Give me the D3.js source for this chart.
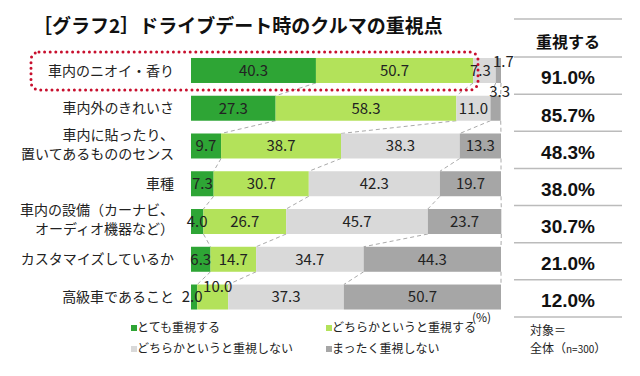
<!DOCTYPE html>
<html>
<head>
<meta charset="utf-8">
<script src="https://cdn.jsdelivr.net/npm/d3@7"></script>
<style>
  body { margin: 0; background: #fff; }
  svg { font-family: "Noto Sans CJK JP", "Noto Sans", sans-serif; }
</style>
</head>
<body>
<svg id="chart" width="640" height="376"></svg>
<script>
const categories = [
    "車内のニオイ・香り",
    "車内外のきれいさ",
    "車内に貼ったり、|置いてあるもののセンス",
    "車種",
    "車内の設備（カーナビ、|オーディオ機器など）",
    "カスタマイズしているか",
    "高級車であること"
];
const seriesNames = ["とても重視する", "どちらかというと重視する", "どちらかというと重視しない", "まったく重視しない"];
const veryImportant = [40.3, 27.3, 9.7, 7.3, 4.0, 6.3, 2.0];
const somewhatImportant = [50.7, 58.3, 38.7, 30.7, 26.7, 14.7, 10.0];
const somewhatNot = [7.3, 11.0, 38.3, 42.3, 45.7, 34.7, 37.3];
const notAtAll = [1.7, 3.3, 13.3, 19.7, 23.7, 44.3, 50.7];
const importantTotal = ["91.0%", "85.7%", "48.3%", "38.0%", "30.7%", "21.0%", "12.0%"];

const colors = ["#2ea535", "#b3e25a", "#d9d9d9", "#a6a6a6"];
// small labels that are nudged off their segment: [row, series, dx, dy]
const nudges = [[0, 2, -4, 0], [0, 3, 5, -9], [1, 3, 4, -17], [6, 1, 5, -10], [6, 0, -2, 0]];

const svg = d3.select("#chart");
const rows = categories.map((c, i) => ({
    cat: c,
    v: [veryImportant[i], somewhatImportant[i], somewhatNot[i], notAtAll[i]]
}));
const keys = [0, 1, 2, 3];
const stack = d3.stack().keys(keys).value((d, k) => d.v[k]);
const series = stack(rows);

const x = d3.scaleLinear().domain([0, 100]).range([191, 501]);
const y = d3.scaleBand().domain(d3.range(rows.length)).range([51.6, 315.9]).paddingInner(0.34).paddingOuter(0.17);
const bh = 25;
const yc = i => y(i) + y.bandwidth() / 2;

// title
svg.append("text")
    .attr("x", 33).attr("y", 33)
    .attr("font-size", 19).attr("font-weight", "bold").attr("fill", "#111")
    .text("［グラフ2］ドライブデート時のクルマの重視点");

// dashed connectors between bars
const conn = svg.append("g").attr("stroke", "#aaa").attr("stroke-dasharray", "4,3").attr("stroke-width", 1);
keys.forEach(k => {
    for (let i = 0; i < rows.length - 1; i++) {
        conn.append("line")
            .attr("x1", x(series[k][i][1])).attr("y1", yc(i) + bh / 2)
            .attr("x2", x(series[k][i + 1][1])).attr("y2", yc(i + 1) - bh / 2);
    }
});

// bars
const g = svg.append("g");
series.forEach((s, k) => {
    g.selectAll(null).data(s).join("rect")
        .attr("x", d => x(d[0]))
        .attr("y", (d, i) => yc(i) - bh / 2)
        .attr("width", d => x(d[1]) - x(d[0]))
        .attr("height", bh)
        .attr("fill", colors[k]);
});

// value labels
series.forEach((s, k) => {
    g.selectAll(null).data(s).join("text")
        .attr("x", (d, i) => {
            const n = nudges.find(n => n[0] === i && n[1] === k);
            return (x(d[0]) + x(d[1])) / 2 + (n ? n[2] : 0);
        })
        .attr("y", (d, i) => {
            const n = nudges.find(n => n[0] === i && n[1] === k);
            return yc(i) + (n ? n[3] : 0);
        })
        .attr("dy", "0.36em")
        .attr("text-anchor", "middle")
        .attr("font-size", 15).attr("fill", "#222")
        .text(d => d3.format(".1f")(d.data.v[k]));
});

// category labels
svg.append("g").selectAll("text").data(rows).join("text")
    .attr("text-anchor", "end")
    .attr("font-size", 14).attr("fill", "#222")
    .each(function (d, i) {
        const lines = d.cat.split("|");
        const t = d3.select(this);
        lines.forEach((l, j) => {
            t.append("tspan")
                .attr("x", 174)
                .attr("y", yc(i) + (j - (lines.length - 1) / 2) * 19 - 2 + (lines.length > 1 ? 0 : 2))
                .attr("dy", "0.36em")
                .text(l);
        });
    });

// highlight box for first row
svg.append("rect")
    .attr("x", 31).attr("y", 52).attr("width", 447).attr("height", 38).attr("rx", 8)
    .attr("fill", "none").attr("stroke", "#c8102e").attr("stroke-width", 3)
    .attr("stroke-linecap", "round").attr("stroke-dasharray", "0,5.6");

// right table
const ty = d3.scaleLinear().domain([0, 7]).range([57, 317]);
const tab = svg.append("g");
tab.selectAll("line").data([19].concat(d3.range(8).map(ty))).join("line")
    .attr("x1", 514).attr("x2", 622)
    .attr("y1", d => d).attr("y2", d => d)
    .attr("stroke", "#bbb").attr("stroke-width", 1.5);
tab.append("text")
    .attr("x", 568).attr("y", 42).attr("dy", "0.36em")
    .attr("text-anchor", "middle").attr("font-size", 16).attr("font-weight", "bold").attr("fill", "#111")
    .text("重視する");
tab.selectAll("text.val").data(importantTotal).join("text")
    .attr("class", "val")
    .attr("x", 568).attr("y", (d, i) => (ty(i) + ty(i + 1)) / 2 + 2).attr("dy", "0.36em")
    .attr("text-anchor", "middle").attr("font-size", 19).attr("font-weight", "bold").attr("fill", "#111")
    .attr("font-family", "'Liberation Sans', Arial, sans-serif")
    .text(d => d);

// (%) unit
svg.append("text").attr("x", 472).attr("y", 318).attr("dy", "0.36em")
    .attr("font-size", 12).attr("fill", "#222").text("(%)");

// legend
const legPos = [[131, 328], [326, 328], [131, 349], [326, 349]];
const leg = svg.append("g").selectAll("g").data(seriesNames).join("g")
    .attr("transform", (d, i) => `translate(${legPos[i][0]},${legPos[i][1]})`);
leg.append("rect").attr("x", 0).attr("y", -3).attr("width", 6).attr("height", 6)
    .attr("fill", (d, i) => colors[i]);
leg.append("text").attr("x", 6).attr("dy", "0.36em")
    .attr("font-size", 12).attr("fill", "#222").text(d => d);

// footnote
const foot = svg.append("g").attr("font-size", 12).attr("fill", "#222");
foot.append("text").attr("x", 530).attr("y", 331).attr("dy", "0.36em").text("対象＝");
const f2 = foot.append("text").attr("x", 530).attr("y", 349).attr("dy", "0.36em");
f2.append("tspan").text("全体（");
f2.append("tspan").attr("font-size", 10).text("n=300");
f2.append("tspan").text("）");
</script>
</body>
</html>
